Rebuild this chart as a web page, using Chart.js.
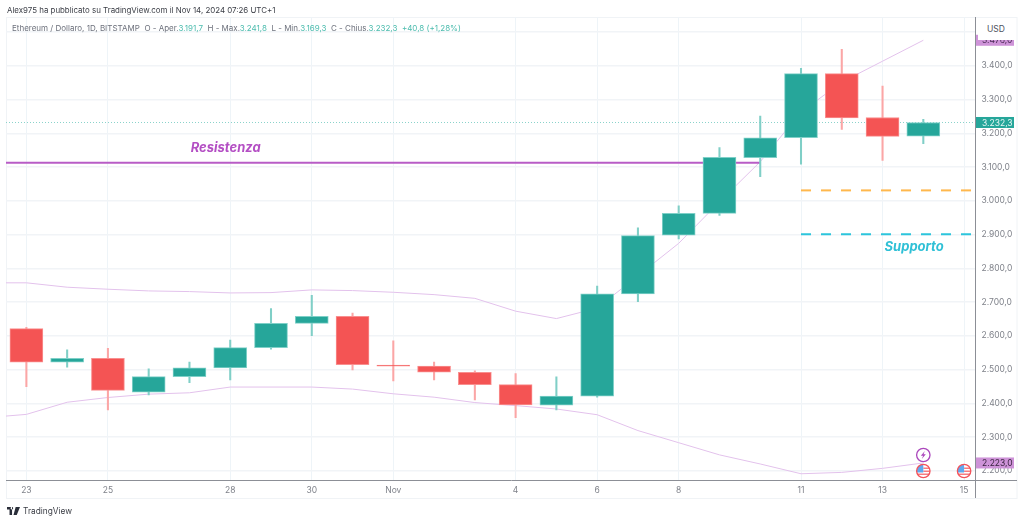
<!DOCTYPE html>
<html>
<head>
<meta charset="utf-8">
<title>Ethereum / Dollaro</title>
<script src="https://cdn.jsdelivr.net/npm/chart.js@4/dist/chart.umd.min.js"></script>
<style>
  html, body { margin: 0; padding: 0; background: #fff; overflow: hidden; }
  body { width: 1024px; height: 522px; position: relative; font-family: Inter, "Liberation Sans", sans-serif; }
  canvas { position: absolute; left: 0; top: 0; }
  .txt { position: absolute; white-space: pre; }
  #author { left: 7px; top: 4px; font-size: 7.9px; line-height: 13px; color: #3a3d45; }
  #info { left: 12px; top: 22px; font-size: 8px; line-height: 13px; color: #6d717c; }
  #info b { font-weight: 400; color: #4cbcae; }
  #usd { left: 978px; top: 20px; width: 36px; height: 20px; background: #fff; font-size: 8.5px; line-height: 18px; text-align: center; color: #50535e; }
  #brand { left: 23px; top: 504px; font-size: 8.3px; line-height: 14px; color: #3a3d45; }
  #logo { position: absolute; left: 7px; top: 507px; }
</style>
</head>
<body>
<canvas id="chart" width="1024" height="522"></canvas>
<div class="txt" id="author">Alex975 ha pubblicato su TradingView.com il Nov 14, 2024 07:26 UTC+1</div>
<div class="txt" id="info">Ethereum / Dollaro, 1D, BITSTAMP  O - Aper.<b>3.191,7</b>  H - Max.<b>3.241,8</b>  L - Min.<b>3.169,3</b>  C - Chius.<b>3.232,3</b>  <b>+40,8 (+1,28%)</b></div>
<div class="txt" id="usd">USD</div>
<svg id="logo" width="13" height="8" viewBox="0 0 36 22"><path fill="#2a2e39" d="M0 0h14v22H7V7H0zM17 3a3.5 3.5 0 1 0 0 .1zM24 0h12l-9 22h-9z"/></svg>
<div class="txt" id="brand">TradingView</div>

<script>
const days = ['23','24','25','26','27','28','29','30','31','Nov','2','3','4','5','6','7','8','9','10','11','12','13','14','15'];
const xTickLabels = ['23','25','28','30','Nov','4','6','8','11','13','15'];
const yTickValues = [2200,2300,2400,2500,2600,2700,2800,2900,3000,3100,3200,3300,3400,3500];

const opens  = [2621,2522,2533,2433,2479,2505,2565,2637,2658,2513,2510,2492,2455,2394,2421,2724,2898,2963,3128,3187,3377,3247,3191.7];
const closes = [2522,2533,2438,2479,2505,2565,2637,2658,2514,2510,2492,2455,2395,2421,2724,2897,2963,3129,3187,3377,3246,3191,3232.3];
const highs  = [2625,2558,2563,2502,2522,2587,2681,2720,2667,2585,2522,2496,2488,2478,2747,2920,2985,3158,3251,3393,3449,3340,3241.8];
const lows   = [2449,2507,2380,2425,2461,2469,2560,2600,2499,2466,2469,2410,2357,2380,2418,2701,2887,2957,3072,3109,3212,3120,3169.3];

// bands start one day before the first candle, cut off by the plot edge
const upperBand = [2757,2757,2744,2738,2733,2731,2727,2728,2736,2734,2729,2722,2711,2673,2651,2682,2778,2874,2997,3116,3263,3352,3414,3476];
const lowerBand = [2357,2367,2403,2417,2427,2431,2448,2448,2448,2442,2428,2418,2402,2393,2383,2366,2319,2283,2247,2220,2191,2195,2207,2223];

const resistance = 3113;
const resistanceEnd = '10';
const support = 2901;
const target = 3031;
const levelsStart = '11';
const lastPrice = 3232.3;

const green = '#26a69a';
const red = '#f45454';

const xMin = -0.5;
const xMax = 23.28;

function price(v) {
  return v.toFixed(1).replace('.', ',').replace(/(\d)(\d{3}),/, '$1.$2,');
}

const candleBodies = opens.map((o, i) => ({ x: i, y: [o, closes[i]] }));
const candleWicks = highs.map((h, i) => ({ x: i, y: [lows[i], h] }));
const bodyColors = opens.map((o, i) => closes[i] >= o ? green : red);
const bodyEdges = opens.map((o, i) => closes[i] >= o ? '#7fd0c8' : '#f98f8f');
const wickColors = opens.map((o, i) => closes[i] >= o ? '#80cfc7' : '#fba6a6');

function hLine(y, from, to, color, width, dash, order) {
  return {
    type: 'line',
    data: [{ x: from, y: y }, { x: to, y: y }],
    borderColor: color,
    borderWidth: width,
    borderDash: dash,
    pointRadius: 0,
    order: order
  };
}

function bandLine(values) {
  return {
    type: 'line',
    data: values.map((v, i) => ({ x: i - 1, y: v })),
    borderColor: '#e3c2ec',
    borderWidth: 1,
    tension: 0,
    pointRadius: 0,
    order: 5
  };
}

const chartFrame = {
  id: 'chartFrame',
  beforeDraw(chart) {
    const c = chart.ctx;
    c.save();
    c.strokeStyle = '#f0f3f6';
    c.lineWidth = 1;
    c.strokeRect(6.5, 17.5, 1010.5, 481);
    c.restore();
  },
  afterDraw(chart) {
    const c = chart.ctx;
    const x = chart.scales.x;
    const y = chart.scales.y;

    // axis lines run past the plot area
    c.save();
    c.strokeStyle = '#8c8f96';
    c.lineWidth = 1;
    c.beginPath();
    c.moveTo(6, 480.5);
    c.lineTo(1017, 480.5);
    c.moveTo(975.5, 17);
    c.lineTo(975.5, 498);
    c.stroke();

    // price labels
    priceTag(c, upperBand[upperBand.length - 1], y, '#ce93d8', '#4a2a55');
    priceTag(c, lastPrice, y, green, '#e6f6f4');
    priceTag(c, lowerBand[lowerBand.length - 1], y, '#ce93d8', '#3a2340');

    // drawing labels
    c.font = 'italic 700 13px Inter, "Liberation Sans", sans-serif';
    c.textBaseline = 'middle';
    c.textAlign = 'left';
    c.fillStyle = '#b44fc4';
    c.fillText('Resistenza', x.getPixelForValue(4.03), y.getPixelForValue(resistance) - 14.5);
    c.fillStyle = '#2fc0d6';
    c.fillText('Supporto', x.getPixelForValue(21.05), y.getPixelForValue(support) + 12.5);

    // event marks
    const last = days.indexOf('14');
    const px = x.getPixelForValue(last);
    const pxNext = x.getPixelForValue(last + 1);
    boltMark(c, px, 455);
    flagMark(c, px, 471);
    flagMark(c, pxNext, 471);
    c.restore();
  }
};

function priceTag(c, value, y, bg, fg) {
  const py = y.getPixelForValue(value);
  c.fillStyle = bg;
  c.fillRect(976, py - 5.5, 38, 11);
  c.fillStyle = fg;
  c.font = '8.5px Inter, "Liberation Sans", sans-serif';
  c.textAlign = 'left';
  c.textBaseline = 'middle';
  c.fillText(price(value), 982, py + 0.5);
}

function boltMark(c, cx, cy) {
  c.fillStyle = '#fff';
  c.strokeStyle = '#ab47bc';
  c.lineWidth = 1.3;
  c.beginPath();
  c.arc(cx, cy, 6.7, 0, Math.PI * 2);
  c.fill();
  c.stroke();
  c.fillStyle = '#ab47bc';
  c.beginPath();
  c.moveTo(cx + 1.5, cy - 4);
  c.lineTo(cx - 2.5, cy + 0.8);
  c.lineTo(cx - 0.2, cy + 0.8);
  c.lineTo(cx - 1.5, cy + 4);
  c.lineTo(cx + 2.5, cy - 0.8);
  c.lineTo(cx + 0.2, cy - 0.8);
  c.closePath();
  c.fill();
}

function flagMark(c, cx, cy) {
  c.fillStyle = '#fff';
  c.beginPath();
  c.arc(cx, cy, 6.7, 0, Math.PI * 2);
  c.fill();
  c.save();
  c.clip();
  c.fillStyle = '#f77c80';
  c.fillRect(cx, cy - 3.5, 7, 1.5);
  c.fillRect(cx, cy - 0.5, 7, 1.5);
  c.fillRect(cx - 7, cy + 2.5, 14, 1.5);
  c.fillStyle = '#5ea9f0';
  c.fillRect(cx - 7, cy - 7, 7, 8.5);
  c.restore();
  c.strokeStyle = '#f4525a';
  c.lineWidth = 1.3;
  c.beginPath();
  c.arc(cx, cy, 6.7, 0, Math.PI * 2);
  c.stroke();
}

new Chart(document.getElementById('chart'), {
  data: {
    datasets: [
      bandLine(upperBand),
      bandLine(lowerBand),
      hLine(resistance, xMin, days.indexOf(resistanceEnd), '#b85cc6', 2, [], 4),
      hLine(target, days.indexOf(levelsStart), xMax, '#ffb84d', 2, [10, 10], 4),
      hLine(support, days.indexOf(levelsStart), xMax, '#2cc5dc', 2, [10, 10], 4),
      hLine(lastPrice, xMin, xMax, '#8ad3cb', 1, [1, 2], 3),
      {
        type: 'bar',
        data: candleWicks,
        backgroundColor: wickColors,
        barThickness: 1.4,
        grouped: false,
        order: 2
      },
      {
        type: 'bar',
        data: candleBodies,
        backgroundColor: bodyColors,
        borderColor: bodyEdges,
        borderWidth: 1,
        borderSkipped: false,
        barThickness: 33,
        grouped: false,
        order: 1
      }
    ]
  },
  options: {
    responsive: false,
    animation: false,
    layout: { padding: { left: 6, top: 17, right: 7, bottom: 24 } },
    plugins: {
      legend: { display: false },
      tooltip: { enabled: false }
    },
    scales: {
      x: {
        type: 'linear',
        offset: false,
        min: xMin,
        max: xMax,
        afterBuildTicks(scale) {
          scale.ticks = xTickLabels.map(l => ({ value: days.indexOf(l) }));
        },
        afterFit(scale) { scale.height = 17.5; },
        border: { display: false },
        grid: { offset: false, color: '#eef4f8', lineWidth: 1, drawTicks: false },
        ticks: {
          autoSkip: false,
          maxRotation: 0,
          padding: 5,
          color: '#7f828a',
          font: { family: 'Inter, "Liberation Sans", sans-serif', size: 8.5 },
          callback: v => days[v]
        }
      },
      y: {
        type: 'linear',
        position: 'right',
        min: 2171,
        max: 3545,
        afterBuildTicks(scale) {
          scale.ticks = yTickValues.map(v => ({ value: v }));
        },
        afterFit(scale) { scale.width = 41.5; },
        border: { display: false },
        grid: { color: '#f1f4f7', lineWidth: 1.5, drawTicks: false },
        ticks: {
          padding: 6,
          color: '#7f828a',
          font: { family: 'Inter, "Liberation Sans", sans-serif', size: 8.5 },
          callback: v => v > 3400 ? '' : price(v)
        }
      }
    }
  },
  plugins: [chartFrame]
});
</script>
</body>
</html>
